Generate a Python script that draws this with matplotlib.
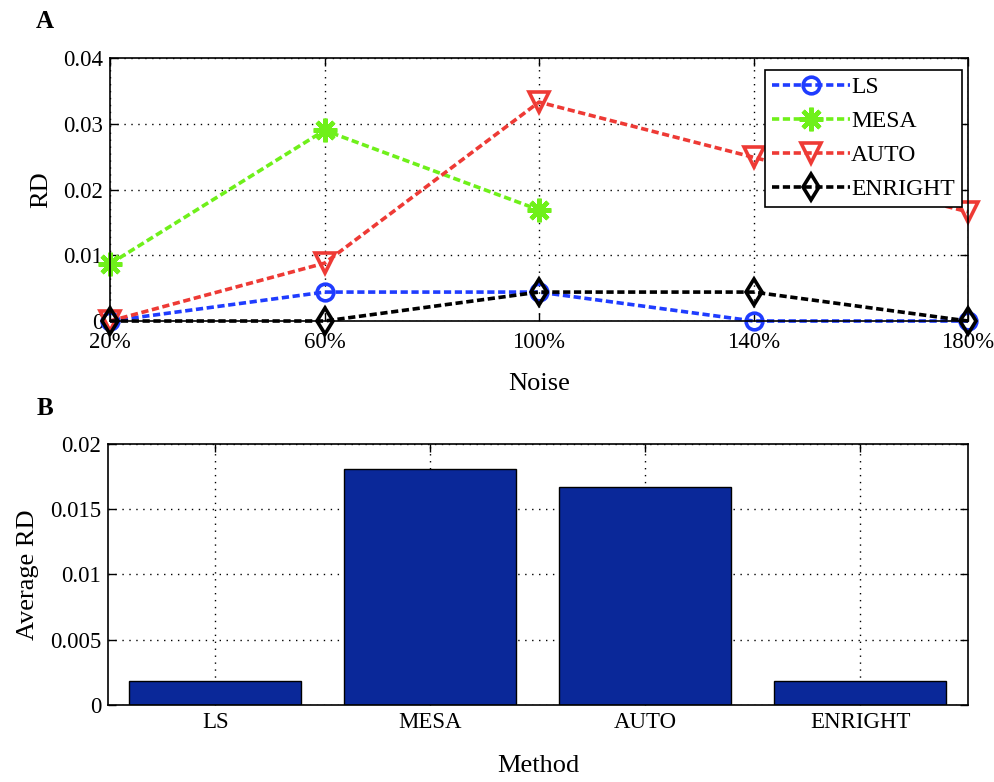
import numpy as np
import matplotlib
matplotlib.use("Agg")
import matplotlib.pyplot as plt

plt.rcParams['font.family'] = ['Liberation Serif', 'DejaVu Serif']

# Panel A: relative deviation vs. noise level
noise_levels = [20, 60, 100, 140, 180]
noise_labels = ['20%', '60%', '100%', '140%', '180%']
rd_ls = [0.0, 0.0044, 0.0044, 0.0, 0.0]
rd_mesa = [0.0087, 0.0290, 0.0169, np.nan, np.nan]
rd_auto = [0.0, 0.0088, 0.0333, 0.0249, 0.0166]
rd_enright = [0.0, 0.0, 0.0044, 0.0044, 0.0]

# Panel B: average RD per method
methods = ['LS', 'MESA', 'AUTO', 'ENRIGHT']
avg_rd = [0.0018, 0.0181, 0.0167, 0.0018]

fig = plt.figure(figsize=(9.95, 7.82), dpi=100)

ax1 = fig.add_axes([0.1106, 0.5895, 0.8623, 0.3363])
ax2 = fig.add_axes([0.1085, 0.0985, 0.8643, 0.3337])

tick_fs = 16.5
label_fs = 19

series = [
    ('LS', rd_ls, '#1f3cff', 'o', 12, 2.6),
    ('MESA', rd_mesa, '#6ff01a', (8, 2, 0), 17, 3.2),
    ('AUTO', rd_auto, '#ee3a35', 'v', 15, 2.6),
    ('ENRIGHT', rd_enright, 'black', 'd', 13, 2.6),
]
for name, vals, col, mk, ms, mew in series:
    ax1.plot(noise_levels, vals, linestyle=(0, (2.0, 1.0)), linewidth=2.6,
             color=col, marker=mk, markersize=ms, markerfacecolor='none',
             markeredgecolor=col, markeredgewidth=mew, label=name,
             clip_on=False, zorder=3)

ax1.set_xlim(20, 180)
ax1.set_ylim(0, 0.04)
ax1.set_xticks(noise_levels)
ax1.set_xticklabels(noise_labels)
ax1.set_yticks([0, 0.01, 0.02, 0.03, 0.04])
ax1.set_yticklabels(['0', '0.01', '0.02', '0.03', '0.04'])
ax1.set_xlabel('Noise', fontsize=label_fs, labelpad=14)
ax1.set_ylabel('RD', fontsize=label_fs, labelpad=8)
ax1.tick_params(axis='x', pad=8)

leg = ax1.legend(loc='upper right', bbox_to_anchor=(0.993, 0.955),
                 borderaxespad=0, fancybox=False, framealpha=1,
                 edgecolor='black', fontsize=17, handlelength=3.3,
                 handletextpad=0.05, borderpad=0.3, labelspacing=0.52)
leg.get_frame().set_linewidth(1.2)
leg.set_zorder(5)

ax2.bar(np.arange(1, len(methods) + 1), avg_rd, width=0.8,
        color='#0a2899', edgecolor='black', linewidth=1.0, zorder=3)
ax2.set_xlim(0.5, 4.5)
ax2.set_ylim(0, 0.02)
ax2.set_xticks(np.arange(1, len(methods) + 1))
ax2.set_xticklabels(methods)
ax2.set_yticks([0, 0.005, 0.01, 0.015, 0.02])
ax2.set_yticklabels(['0', '0.005', '0.01', '0.015', '0.02'])
ax2.set_xlabel('Method', fontsize=label_fs, labelpad=16)
ax2.set_ylabel('Average RD', fontsize=label_fs, labelpad=8)
ax2.tick_params(axis='x', pad=5)

for ax in (ax1, ax2):
    ax.grid(True, linestyle=(0, (1, 4)), color='black', linewidth=1.0)
    ax.set_axisbelow(True)
    ax.tick_params(direction='in', top=True, right=True, length=6,
                   width=1.0, labelsize=tick_fs)
    ax.tick_params(axis='y', pad=5)
    for sp in ax.spines.values():
        sp.set_linewidth(1.2)
        sp.set_zorder(4)

fig.text(0.045, 0.972, 'A', fontsize=18, fontweight='bold', ha='center', va='center')
fig.text(0.045, 0.478, 'B', fontsize=18, fontweight='bold', ha='center', va='center')

fig.savefig('out.png', dpi=100)
